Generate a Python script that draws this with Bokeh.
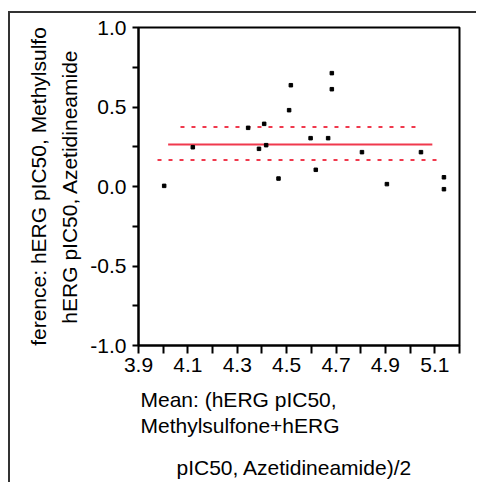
from bokeh.plotting import figure
from bokeh.models import FixedTicker, NumeralTickFormatter, Title
from bokeh.embed import file_html
from bokeh.resources import INLINE

# ---- data ----
mean_x = [4.004, 4.120, 4.344, 4.388, 4.409, 4.417, 4.467, 4.510, 4.517, 4.597,
          4.618, 4.668, 4.683, 4.683, 4.805, 4.906, 5.044, 5.137, 5.137]
diff_y = [0.004, 0.247, 0.369, 0.237, 0.394, 0.260, 0.050, 0.480, 0.637, 0.304,
          0.105, 0.304, 0.713, 0.612, 0.216, 0.015, 0.216, 0.058, -0.017]

bias_y = 0.264
bias_x = [4.02, 5.09]
upper_y = 0.375
upper_x = [4.07, 5.04]
lower_y = 0.166
lower_x = [3.977, 5.119]

x_major = [3.9, 4.1, 4.3, 4.5, 4.7, 4.9, 5.1]
x_minor = [4.0, 4.2, 4.4, 4.6, 4.8, 5.0, 5.2]
y_major = [-1.0, -0.5, 0.0, 0.5, 1.0]
y_minor = [-0.75, -0.25, 0.25, 0.75]

x_label_lines = ["Mean: (hERG pIC50,", "Methylsulfone+hERG", "pIC50, Azetidineamide)/2"]
y_label_lines = ["ference: hERG pIC50, Methylsulfo", "hERG pIC50, Azetidineamide"]

FONT = "Liberation Sans"
FS = "21px"
RED = "#f0394d"

p = figure(width=468, height=471, x_range=(3.9, 5.2), y_range=(-1.0, 1.0),
           output_backend="svg", toolbar_location=None,
           min_border_left=128, min_border_right=19,
           min_border_top=14, min_border_bottom=139)

# outer page border (left and top edges only visible)
p.styles = {"border-left": "2px solid #333333", "border-top": "2px solid #333333",
            "margin-left": "8px", "margin-top": "11px"}

p.grid.visible = False
p.background_fill_color = "white"
p.border_fill_color = "white"
p.outline_line_color = "black"
p.outline_line_width = 2
p.outline_line_alpha = 1.0

for ax, major, minor, out in ((p.xaxis[0], x_major, x_minor, 8), (p.yaxis[0], y_major, y_minor, 6)):
    ax.ticker = FixedTicker(ticks=major, minor_ticks=minor)
    ax.formatter = NumeralTickFormatter(format="0.0")
    ax.axis_line_width = 2
    ax.axis_line_color = "black"
    ax.major_tick_in = 0
    ax.minor_tick_in = 0
    ax.major_tick_out = out
    ax.minor_tick_out = out
    ax.major_tick_line_width = 2
    ax.minor_tick_line_width = 2
    ax.major_tick_line_color = "black"
    ax.minor_tick_line_color = "black"
    ax.major_label_text_font = FONT
    ax.major_label_text_font_size = FS
    ax.major_label_text_color = "black"

p.xaxis.major_label_standoff = 4
p.yaxis.major_label_standoff = 6

# y axis label: two lines
p.yaxis.axis_label = "\n".join(y_label_lines)
p.yaxis.axis_label_text_font = FONT
p.yaxis.axis_label_text_font_size = FS
p.yaxis.axis_label_text_font_style = "normal"
p.yaxis.axis_label_text_color = "black"
p.yaxis.axis_label_text_line_height = 1.35
p.yaxis.axis_label_standoff = 6

# reference lines
p.line(bias_x, [bias_y, bias_y], line_color=RED, line_width=2)
p.line(upper_x, [upper_y, upper_y], line_color=RED, line_width=2, line_dash="4 7")
p.line(lower_x, [lower_y, lower_y], line_color=RED, line_width=2, line_dash="4 7")

# points
p.scatter(mean_x, diff_y, marker="square", size=3.5, color="black")

# x axis label lines as titles below the axis
def below_title(text, offset, standoff, line_height=1.0):
    t = Title(text=text, align="left", offset=offset, standoff=standoff,
              text_font=FONT, text_font_size=FS, text_font_style="normal",
              text_color="black", text_line_height=line_height)
    p.add_layout(t, "below")

below_title("\n".join(x_label_lines[:2]), 2, 23, 1.12)
below_title(x_label_lines[2], 38, 10)

open("out.html", "w").write(file_html(p, INLINE))
